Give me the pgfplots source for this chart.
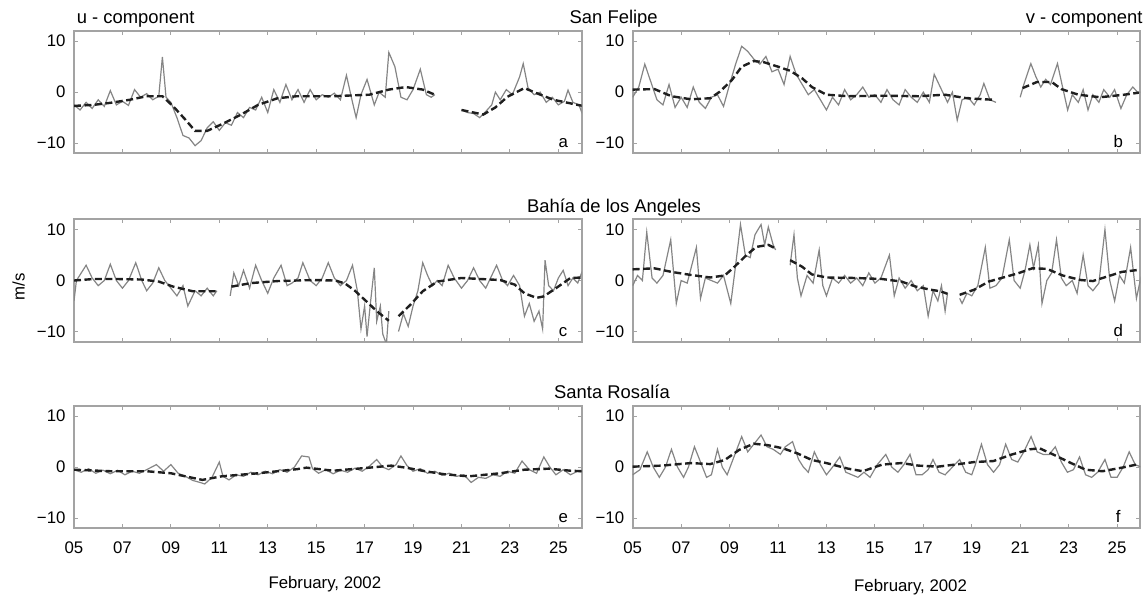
\documentclass[border=0pt]{standalone}
\usepackage{fontspec}
\setmainfont{Liberation Sans}
\usepackage{pgfplots}
\pgfplotsset{compat=1.18}
\definecolor{noisy}{gray}{0.52}
\definecolor{framec}{gray}{0.64}
\definecolor{trendc}{gray}{0.12}
\newcommand{\tickfont}{\fontsize{16.8}{18}\selectfont}
\newcommand{\titlefont}{\fontsize{18.4}{20}\selectfont}
\pgfplotsset{
  panel/.style={
    scale only axis, width=507.6pt, height=122.3pt,
    xmin=5, xmax=25.96, ymin=-12, ymax=12,
    xtick={5,7,...,25}, ytick={-10,0,10},
    yticklabels={−10,0,10}, xticklabels={},
    tick align=inside, major tick length=4pt,
    xtick pos=both, ytick pos=both,
    tick style={framec, line width=1pt},
    axis line style={framec, line width=2.2pt},
    yticklabel style={font=\tickfont, xshift=-5pt},
    xticklabel style={font=\tickfont, yshift=-10pt},
    unbounded coords=jump,
    anchor=south west,
  },
  bottomrow/.style={xticklabels={05,07,09,11,13,15,17,19,21,23,25}},
  noisyline/.style={noisy, line width=1.2pt, no marks},
  trendline/.style={trendc, line width=2.4pt, dash pattern=on 7pt off 3.5pt, no marks},
}
\begin{document}
\begin{tikzpicture}
\path[use as bounding box] (0pt,0pt) rectangle (1146pt,-596pt);

% ---------- panel a ----------
\begin{axis}[panel, at={(74pt,-153.3pt)}]
\addplot[noisyline] table {
5.00 -2.5
5.25 -3.5
5.50 -2.0
5.75 -3.2
6.00 -1.5
6.25 -2.8
6.50 0.3
6.75 -2.5
7.00 -1.8
7.25 -2.6
7.50 0.5
7.75 -1.0
8.00 -0.3
8.25 -1.5
8.50 -0.8
8.65 6.9
8.80 -1.0
9.00 -2.0
9.25 -5.0
9.50 -8.5
9.75 -9.0
10.00 -10.5
10.25 -9.5
10.50 -7.0
10.75 -5.8
11.00 -7.5
11.25 -6.0
11.50 -6.5
11.75 -4.0
12.00 -5.0
12.25 -3.0
12.50 -3.5
12.75 -1.0
13.00 -4.0
13.25 0.5
13.50 -2.0
13.75 1.5
14.00 -1.5
14.25 0.5
14.50 -2.0
14.75 0.5
15.00 -1.5
15.25 -0.5
15.50 -1.0
15.75 -0.2
16.00 -1.5
16.25 3.3
16.50 -2.0
16.65 -5.0
16.85 -0.5
17.10 2.5
17.40 -2.5
17.60 0.0
17.85 -1.0
18.00 7.8
18.25 5.0
18.50 -1.0
18.75 -1.5
19.00 0.5
19.30 4.5
19.55 -0.5
19.75 -1.0
19.90 -0.5
20.40 nan
21.00 -3.5
21.25 -4.0
21.50 -4.2
21.75 -5.0
22.00 -3.8
22.25 -2.5
22.40 0.0
22.60 -1.5
22.85 0.5
23.10 -0.5
23.40 3.0
23.55 5.6
23.75 0.8
24.00 -0.5
24.25 0.0
24.50 -2.0
24.75 -1.0
25.00 -2.5
25.25 -1.8
25.40 0.4
25.60 -2.0
25.85 -2.5
26.00 -4.4
};
\addplot[trendline] table {
5.0 -2.7
5.8 -2.5
6.5 -2.1
7.3 -1.5
8.0 -0.8
8.65 -0.8
9.1 -2.8
9.6 -5.4
10.0 -7.6
10.5 -7.6
11.1 -6.3
11.9 -4.4
12.6 -2.5
13.4 -1.2
14.2 -0.8
15.7 -0.8
17.2 -0.5
18.0 0.5
18.7 1.0
19.4 0.5
19.9 -0.5
20.4 nan
21.0 -3.5
21.9 -4.4
22.4 -3.0
22.9 -0.9
23.6 0.8
24.1 -0.2
24.8 -1.5
25.8 -2.5
26.0 -2.7
};
\node[font=\tickfont, anchor=base] at (axis cs:25.2,-10.9) {a};
\end{axis}

% ---------- panel b ----------
\begin{axis}[panel, at={(632.7pt,-153.3pt)}]
\addplot[noisyline] table {
5.00 -1.0
5.25 1.0
5.50 5.5
5.75 2.0
6.00 -1.5
6.25 -2.5
6.50 1.5
6.75 -3.0
7.00 -1.0
7.25 -3.0
7.50 1.0
7.75 -2.0
8.00 -3.2
8.25 -1.0
8.50 -0.5
8.75 -2.8
9.00 1.5
9.25 5.5
9.50 9.0
9.75 8.0
10.00 6.5
10.25 5.5
10.50 7.0
10.75 4.0
11.00 4.5
11.25 1.5
11.50 7.0
11.75 3.5
12.00 1.5
12.25 -0.5
12.50 0.5
12.75 -1.5
13.00 -3.5
13.25 -1.0
13.50 -2.5
13.75 0.5
14.00 -1.5
14.25 -0.5
14.50 1.0
14.75 -1.0
15.00 -0.5
15.25 -2.0
15.50 0.5
15.75 -1.5
16.00 -2.5
16.25 0.5
16.50 -1.0
16.75 -2.0
17.00 0.0
17.25 -2.0
17.45 3.5
17.75 0.5
18.00 -2.0
18.20 0.0
18.40 -5.5
18.60 -1.5
18.85 -1.0
19.10 -2.5
19.35 -0.5
19.50 1.7
19.75 -1.5
20.00 -2.0
20.50 nan
21.00 -1.0
21.15 1.5
21.44 5.6
21.65 3.0
21.85 1.0
22.05 2.5
22.25 1.5
22.54 5.6
22.75 1.0
22.96 -3.5
23.15 -0.5
23.40 -2.0
23.60 0.5
23.80 -3.5
24.00 -0.5
24.25 -2.0
24.45 0.5
24.70 -1.0
24.90 0.5
25.16 -3.2
25.40 -0.5
25.65 1.0
25.85 0.0
26.00 0.0
};
\addplot[trendline] table {
5.0 0.5
5.9 0.6
6.6 -0.8
7.4 -1.4
8.2 -1.2
8.6 0.1
9.1 2.4
9.5 5.0
10.0 6.1
10.4 5.9
11.0 5.0
11.5 4.2
12.0 2.7
12.4 1.0
13.0 -0.5
13.9 -0.8
15.3 -0.7
16.8 -0.8
17.9 -0.5
18.8 -1.2
19.9 -1.5
20.4 nan
21.1 0.8
21.7 2.0
22.3 2.0
22.7 0.6
23.4 -0.5
24.3 -1.0
25.3 -0.5
25.9 -0.1
};
\node[font=\tickfont, anchor=base] at (axis cs:25.05,-10.9) {b};
\end{axis}

% ---------- panel c ----------
\begin{axis}[panel, at={(74pt,-341.7pt)}]
\addplot[noisyline] table {
5.00 -4.0
5.10 0.0
5.50 3.0
5.75 0.5
6.00 -1.0
6.25 0.0
6.50 3.2
6.75 0.0
7.00 -1.5
7.25 0.0
7.55 3.5
7.80 0.0
8.00 -2.0
8.25 -0.5
8.50 2.5
8.75 0.0
9.00 -1.5
9.25 -3.0
9.50 -1.0
9.70 -5.0
10.00 -2.0
10.25 -3.0
10.50 -1.5
10.75 -3.0
10.90 -2.0
11.20 nan
11.45 -3.0
11.60 1.5
11.80 -1.0
12.00 2.0
12.25 -1.5
12.50 3.0
12.75 0.0
13.00 -2.5
13.25 0.5
13.55 3.0
13.80 -1.0
14.00 -0.5
14.25 0.5
14.45 3.5
14.75 0.0
15.00 -1.0
15.25 0.5
15.50 3.5
15.75 0.5
16.00 -1.0
16.25 0.0
16.50 3.0
16.70 -2.0
16.85 -9.5
17.00 -5.0
17.10 -11.0
17.25 -4.0
17.40 2.5
17.50 -8.0
17.65 -5.0
17.75 -10.5
17.90 -12.5
18.00 -6.0
18.20 nan
18.40 -10.0
18.60 -6.5
18.80 -9.0
19.00 -5.0
19.20 -2.0
19.40 3.5
19.60 1.0
19.80 -1.0
20.00 0.0
20.20 -1.0
20.45 3.0
20.70 0.5
21.00 -1.5
21.25 0.0
21.50 2.5
21.75 0.0
22.00 -1.5
22.20 0.5
22.45 3.0
22.70 0.0
22.90 -1.0
23.15 1.0
23.40 -1.0
23.60 -7.0
23.80 -4.5
24.00 -8.0
24.20 -6.0
24.35 -9.5
24.45 4.0
24.60 -1.0
24.80 -2.0
25.00 0.5
25.20 2.0
25.40 -1.0
25.60 0.5
25.80 -0.5
26.00 2.0
};
\addplot[trendline] table {
5.0 0.0
5.8 0.3
6.8 0.3
7.8 0.2
8.5 -0.2
9.1 -1.2
9.9 -2.1
10.85 -2.1
11.20 nan
11.5 -1.2
12.3 -0.5
13.4 -0.1
14.9 0.1
15.8 0.0
16.2 -0.6
16.6 -2.0
17.1 -4.2
17.5 -6.0
18.0 -7.9
18.2 nan
18.4 -7.0
18.9 -4.7
19.4 -2.1
20.0 -0.2
21.0 0.5
22.6 0.1
23.2 -0.8
23.6 -2.5
24.1 -3.4
24.4 -3.1
24.9 -1.5
25.5 0.5
26.0 0.6
};
\node[font=\tickfont, anchor=base] at (axis cs:25.2,-10.9) {c};
\end{axis}

% ---------- panel d ----------
\begin{axis}[panel, at={(632.7pt,-341.7pt)}]
\addplot[noisyline] table {
5.00 -1.0
5.20 1.0
5.40 0.0
5.58 9.5
5.80 0.5
6.00 -0.5
6.25 1.0
6.57 8.0
6.80 -4.5
7.00 0.0
7.25 -0.5
7.63 6.5
7.80 -3.5
8.00 0.5
8.25 0.0
8.50 -0.5
8.75 1.0
9.05 -4.5
9.25 3.0
9.45 11.0
9.65 5.0
9.85 4.5
10.05 9.0
10.30 11.0
10.45 7.0
10.60 10.5
10.80 7.0
10.90 6.0
11.20 nan
11.50 3.0
11.66 9.0
11.80 0.5
11.95 -3.0
12.20 1.0
12.45 -0.5
12.70 6.0
12.85 -1.0
13.00 -3.0
13.25 0.5
13.50 -0.5
13.75 1.0
14.00 -0.5
14.25 0.5
14.50 -1.0
14.75 1.5
15.00 -0.5
15.25 0.5
15.60 5.0
15.80 -3.0
16.00 0.5
16.25 -1.5
16.50 0.0
16.75 -2.0
17.00 -1.0
17.20 -7.0
17.40 -2.0
17.60 -4.0
17.75 -1.0
17.90 -6.0
18.00 -2.5
18.25 nan
18.50 -3.5
18.60 -4.5
18.80 -2.5
19.00 -3.0
19.25 -1.0
19.56 6.5
19.75 -1.5
20.00 -1.0
20.25 0.5
20.55 8.0
20.75 0.0
21.00 -1.5
21.20 2.0
21.40 7.0
21.55 2.5
21.75 7.0
21.90 -4.5
22.10 0.0
22.30 1.5
22.50 8.0
22.70 0.5
22.90 -1.0
23.15 0.0
23.35 -2.5
23.60 5.0
23.80 -1.0
24.00 -2.0
24.25 -0.5
24.50 10.0
24.70 0.0
24.90 -4.0
25.10 1.0
25.30 -0.5
25.56 6.5
25.80 -3.5
26.00 1.0
};
\addplot[trendline] table {
5.0 2.2
5.9 2.4
6.6 1.7
7.4 1.1
8.2 0.6
8.8 1.0
9.2 2.7
9.7 5.0
10.1 6.6
10.6 7.0
10.9 6.3
11.2 nan
11.5 4.0
12.0 2.7
12.4 1.2
13.0 0.6
14.2 0.5
15.3 0.3
16.1 -0.2
16.7 -1.2
17.3 -1.8
17.7 -2.1
18.0 -2.6
18.25 nan
18.5 -2.8
19.1 -1.8
19.7 -0.2
20.3 0.6
20.9 1.4
21.5 2.4
22.1 2.3
22.75 1.0
23.5 0.1
24.0 -0.1
24.6 0.8
25.2 1.7
25.9 2.1
};
\node[font=\tickfont, anchor=base] at (axis cs:25.05,-10.9) {d};
\end{axis}

% ---------- panel e ----------
\begin{axis}[panel, bottomrow, at={(74pt,-528.3pt)}]
\addplot[noisyline] table {
5.00 -0.5
5.30 -1.0
5.60 -0.3
5.90 -1.2
6.20 -0.6
6.50 -1.3
6.80 -0.6
7.10 -1.5
7.40 -0.8
7.70 -1.2
8.00 -0.5
8.40 0.5
8.70 -0.8
9.00 0.5
9.30 -1.2
9.60 -1.8
9.90 -2.6
10.20 -3.0
10.40 -3.3
10.70 -2.0
11.00 1.0
11.15 -1.8
11.40 -2.5
11.70 -1.5
12.00 -1.8
12.30 -1.0
12.60 -1.5
12.90 -0.8
13.20 -1.3
13.50 -0.5
13.80 -1.0
14.10 0.0
14.40 2.2
14.70 2.0
14.85 -0.3
15.10 -1.2
15.40 -0.5
15.70 -1.3
16.00 -0.6
16.30 -1.0
16.60 -0.2
16.90 -0.8
17.20 0.2
17.50 1.5
17.75 0.0
18.00 -0.5
18.30 0.5
18.50 2.2
18.75 0.3
19.00 -0.8
19.30 -0.3
19.60 -1.2
19.90 -0.8
20.20 -1.6
20.50 -1.2
20.80 -1.8
21.10 -1.5
21.40 -3.0
21.70 -2.0
22.00 -2.2
22.30 -1.5
22.60 -1.8
22.90 -0.8
23.20 -1.2
23.50 1.2
23.80 -0.5
24.10 -1.2
24.40 2.0
24.65 0.0
24.90 -1.5
25.20 -0.5
25.50 -1.5
25.80 -0.8
26.05 -1.0
};
\addplot[trendline] table {
5.0 -0.5
6.5 -0.8
8.0 -0.8
9.0 -1.2
9.6 -1.8
10.3 -2.5
11.1 -1.8
12.6 -1.2
14.2 -0.4
14.6 -0.1
15.7 -0.7
17.2 -0.1
18.1 0.3
18.7 -0.1
19.5 -0.8
20.3 -1.4
21.3 -1.8
22.6 -1.2
23.6 -0.5
24.6 -0.3
25.5 -0.7
26.0 -0.8
};
\node[font=\tickfont, anchor=base] at (axis cs:25.2,-10.9) {e};
\end{axis}

% ---------- panel f ----------
\begin{axis}[panel, bottomrow, at={(632.7pt,-528.3pt)}]
\addplot[noisyline] table {
5.00 -1.5
5.30 -0.5
5.60 3.0
5.85 0.0
6.10 -2.0
6.35 0.0
6.60 3.5
6.85 0.0
7.10 -2.0
7.30 0.0
7.55 4.0
7.80 1.0
8.05 -2.0
8.25 -1.5
8.50 3.5
8.70 0.0
8.90 -1.5
9.10 1.0
9.50 6.0
9.75 3.0
10.00 4.5
10.30 6.3
10.55 4.0
10.80 3.5
11.10 2.5
11.30 4.0
11.60 5.0
11.85 1.5
12.05 0.0
12.25 -1.0
12.50 3.0
12.75 0.5
13.00 -1.5
13.25 0.0
13.55 2.0
13.80 -1.0
14.05 -1.5
14.30 -2.0
14.55 -1.0
14.80 -2.0
15.10 0.5
15.45 2.5
15.70 0.0
15.95 -1.0
16.20 0.5
16.45 2.5
16.70 -1.5
16.95 -1.5
17.20 -0.5
17.40 1.5
17.65 -1.0
17.90 -1.5
18.20 0.0
18.50 1.5
18.75 -1.0
19.00 -1.5
19.15 0.5
19.40 4.5
19.65 0.5
19.90 -1.0
20.15 0.5
20.40 4.5
20.65 1.5
20.90 1.0
21.15 3.0
21.45 6.0
21.70 3.0
21.95 2.5
22.20 2.5
22.45 4.0
22.70 1.0
22.95 -1.0
23.20 -0.5
23.45 2.0
23.70 -1.5
23.95 -2.0
24.20 -1.0
24.50 1.5
24.75 -2.0
25.00 -2.0
25.25 0.0
25.50 3.0
25.75 0.5
26.00 0.0
};
\addplot[trendline] table {
5.0 0.1
6.2 0.3
7.4 0.8
8.2 0.6
8.8 1.4
9.4 3.4
10.0 4.6
10.6 4.3
11.2 3.7
11.8 2.7
12.4 1.4
13.0 0.8
13.9 -0.3
14.5 -0.8
15.3 0.5
16.1 0.8
16.8 0.3
17.6 0.1
18.3 0.5
19.1 1.0
19.9 1.2
20.6 2.4
21.4 3.5
21.8 3.7
22.4 2.4
23.1 0.8
23.7 -0.5
24.4 -0.8
25.2 -0.1
25.9 0.6
};
\node[font=\tickfont, anchor=base] at (axis cs:25.05,-10.9) {f};
\end{axis}

% ---------- titles and labels ----------
\node[font=\titlefont, anchor=base west, inner sep=0] at (76.7pt,-23.3pt) {u - component};
\node[font=\titlefont, anchor=base, inner sep=0] at (613.7pt,-23.3pt) {San Felipe};
\node[font=\titlefont, anchor=base east, inner sep=0] at (1142.7pt,-23.3pt) {v - component};
\node[font=\titlefont, anchor=base, inner sep=0] at (614pt,-212.3pt) {Bahía de los Angeles};
\node[font=\titlefont, anchor=base, inner sep=0] at (612pt,-398.3pt) {Santa Rosalía};
\node[font=\tickfont, rotate=90, inner sep=0] at (18.7pt,-287pt) {m/s};
\node[font=\tickfont, anchor=base west, inner sep=0] at (268.3pt,-588.3pt) {February, 2002};
\node[font=\tickfont, anchor=base west, inner sep=0] at (854pt,-591.7pt) {February, 2002};
\end{tikzpicture}
\end{document}
